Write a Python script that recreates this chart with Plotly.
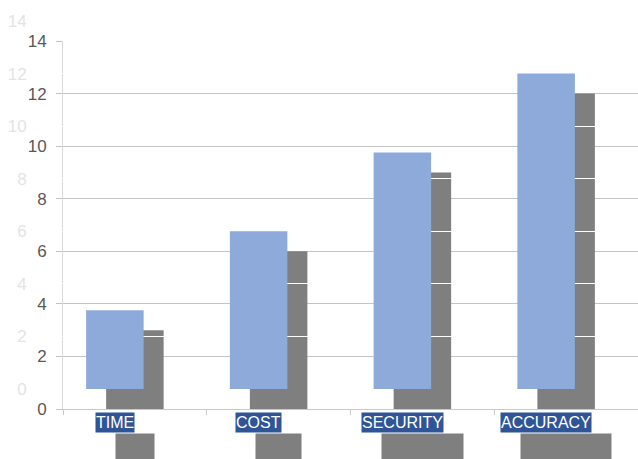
import plotly.graph_objects as go

categories = ["TIME", "COST", "SECURITY", "ACCURACY"]
values = [3, 6, 9, 12]
y_ticks = [0, 2, 4, 6, 8, 10, 12, 14]

W, H = 638, 459
ml, mr, mt, mb = 43, 0, 21, 50
off = 20  # pixel offset of the "ghost" layer
pw = W - ml - mr
ph = H - mt - mb

label_font = dict(family="Liberation Sans, Arial, sans-serif", size=16)

fig = go.Figure()
# real (shadow) layer
fig.add_trace(go.Bar(x=categories, y=values, xaxis="x", yaxis="y",
                     marker=dict(color="#7f7f7f", line=dict(width=0)), showlegend=False,
                     hoverinfo="skip"))
# ghost (coloured) layer
fig.add_trace(go.Bar(x=categories, y=values, xaxis="x2", yaxis="y2",
                     marker=dict(color="#8eaadb", line=dict(width=0)), showlegend=False,
                     hoverinfo="skip"))

annotations = []
for c in categories:
    annotations.append(dict(x=c, y=0, xref="x", yref="y", text=c, showarrow=False,
                            font=dict(color="#7f7f7f", **label_font), bgcolor="#7f7f7f",
                            borderpad=0, height=26, yanchor="top", yshift=-24))
for c in categories:
    annotations.append(dict(x=c, y=0, xref="x2", yref="y2", text=c, showarrow=False,
                            font=dict(color="white", **label_font), bgcolor="#2f5597",
                            borderpad=0, height=19, yanchor="middle", yshift=-33.5))

fig.update_layout(
    width=W, height=H,
    margin=dict(l=ml, r=mr, t=mt, b=mb),
    paper_bgcolor="white", plot_bgcolor="rgba(0,0,0,0)",
    bargap=0.6,
    annotations=annotations,
    xaxis=dict(domain=[off / pw, 1], type="category", range=[-0.5, 3.5],
               showticklabels=False, showgrid=False, showline=True, linecolor="#c8c8c8",
               ticks="outside", tickson="boundaries", ticklen=5, tickcolor="#c8c8c8",
               anchor="y"),
    yaxis=dict(domain=[0, (ph - off) / ph], range=[0, 14], tickvals=y_ticks,
               showgrid=True, gridcolor="#c4c4c4", gridwidth=1, zeroline=False,
               showline=True, linecolor="#d9d9d9", ticks="outside", ticklen=6,
               tickcolor="#c4c4c4", ticklabelstandoff=6,
               tickfont=dict(family="Liberation Sans, Arial, sans-serif", size=17, color="#595959"),
               anchor="x"),
    xaxis2=dict(domain=[0, (pw - off) / pw], type="category", range=[-0.5, 3.5],
                showticklabels=False, showgrid=False, showline=False, ticks="",
                anchor="y2"),
    yaxis2=dict(domain=[off / ph, 1], range=[0, 14], tickvals=y_ticks,
                showgrid=True, gridcolor="white", gridwidth=1, zeroline=False,
                showline=False, ticks="outside", ticklen=6, tickcolor="white",
                ticklabelstandoff=6,
                tickfont=dict(family="Liberation Sans, Arial, sans-serif", size=17, color="#e4e4e4"),
                anchor="x2"),
)

fig.write_html("out.html")
